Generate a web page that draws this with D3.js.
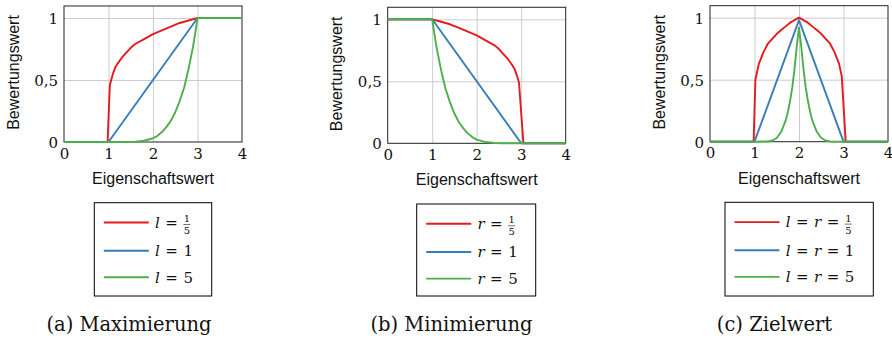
<!DOCTYPE html>
<html>
<head>
<meta charset="utf-8">
<script src="https://cdn.jsdelivr.net/npm/d3@7"></script>
<style>
  body { margin: 0; background: #fff; }
  svg { display: block; }
</style>
</head>
<body>
<div id="chart"></div>
<script>
// values
const xTicks = [0, 1, 2, 3, 4];
const yTicks = [0, 0.5, 1];
const yTickLabels = ["0", "0,5", "1"];
const xLabel = "Eigenschaftswert";
const yLabel = "Bewertungswert";
const captions = ["(a) Maximierung", "(b) Minimierung", "(c) Zielwert"];
const seriesColors = ["#e41a1c", "#377eb8", "#4daf4a"];
const legendVars = [["l"], ["r"], ["l", "r"]];
const legendValues = ["1/5", "1", "5"];

// (a) Maximierung
const maxRedX = [0, 0.98, 1.03, 1.1, 1.15, 1.2, 1.3, 1.4, 1.5, 1.6, 1.8, 2.0, 2.2, 2.4, 2.6, 2.8, 3.0, 4];
const maxRedY = [0, 0, 0.46, 0.55, 0.6, 0.63, 0.68, 0.72, 0.76, 0.79, 0.83, 0.87, 0.9, 0.93, 0.96, 0.98, 1, 1];
const maxBlueX = [0, 1, 3, 4];
const maxBlueY = [0, 0, 1, 1];
const maxGreenX = [0, 1, 1.4, 1.6, 1.8, 2.0, 2.1, 2.2, 2.3, 2.4, 2.5, 2.6, 2.7, 2.8, 2.9, 2.95, 3.0, 4];
const maxGreenY = [0, 0, 0.0003, 0.002, 0.01, 0.03, 0.05, 0.08, 0.12, 0.17, 0.24, 0.33, 0.44, 0.59, 0.77, 0.88, 1, 1];

// (b) Minimierung
const minRedX = [0, 1, 1.2, 1.4, 1.6, 1.8, 2.0, 2.2, 2.4, 2.5, 2.6, 2.7, 2.8, 2.85, 2.9, 2.95, 3.05, 4];
const minRedY = [1, 1, 0.98, 0.96, 0.93, 0.9, 0.87, 0.83, 0.79, 0.76, 0.72, 0.68, 0.63, 0.6, 0.55, 0.49, 0, 0];
const minBlueX = [0, 1, 3, 4];
const minBlueY = [1, 1, 0, 0];
const minGreenX = [0, 1, 1.05, 1.1, 1.2, 1.3, 1.4, 1.5, 1.6, 1.7, 1.8, 1.9, 2.0, 2.2, 2.4, 2.6, 3, 4];
const minGreenY = [1, 1, 0.88, 0.77, 0.59, 0.44, 0.33, 0.24, 0.17, 0.12, 0.08, 0.05, 0.03, 0.01, 0.002, 0, 0, 0];

// (c) Zielwert
const tgtRedX = [0, 0.98, 1.02, 1.05, 1.1, 1.2, 1.3, 1.4, 1.5, 1.6, 1.7, 1.8, 1.9, 2.0, 2.1, 2.2, 2.3, 2.4, 2.5, 2.6, 2.7, 2.8, 2.9, 2.96, 3.05, 4];
const tgtRedY = [0, 0, 0.5, 0.55, 0.63, 0.72, 0.79, 0.83, 0.87, 0.9, 0.93, 0.96, 0.98, 1, 0.98, 0.96, 0.93, 0.9, 0.87, 0.83, 0.79, 0.72, 0.63, 0.53, 0, 0];
const tgtBlueX = [0, 1, 2, 3, 4];
const tgtBlueY = [0, 0, 0.98, 0, 0];
const tgtGreenX = [0, 1, 1.3, 1.4, 1.5, 1.6, 1.7, 1.75, 1.8, 1.85, 1.9, 1.95, 2.0, 2.05, 2.1, 2.15, 2.2, 2.25, 2.3, 2.4, 2.5, 2.6, 2.7, 3, 4];
const tgtGreenY = [0, 0, 0.002, 0.01, 0.03, 0.08, 0.17, 0.24, 0.33, 0.44, 0.59, 0.77, 0.92, 0.77, 0.59, 0.44, 0.33, 0.24, 0.17, 0.08, 0.03, 0.01, 0.002, 0, 0];

const zip = (xs, ys) => xs.map((v, i) => [v, ys[i]]);

const panelSeries = [
  [zip(maxRedX, maxRedY), zip(maxBlueX, maxBlueY), zip(maxGreenX, maxGreenY)],
  [zip(minRedX, minRedY), zip(minBlueX, minBlueY), zip(minGreenX, minGreenY)],
  [zip(tgtRedX, tgtRedY), zip(tgtBlueX, tgtBlueY), zip(tgtGreenX, tgtGreenY)]
];

// layout
const width = 892, height = 339;
const plotW = 178, unitH = 124;
const serif = "'DejaVu Serif', serif";
const sans = "'Liberation Sans', Arial, sans-serif";

const panels = [
  {left: 64,    bottom: 142,   legX: 94.3,  legY: 202.7, legW: 117.4, capX: 129},
  {left: 387.7, bottom: 143.3, legX: 416.7, legY: 204,   legW: 119,   capX: 451.5},
  {left: 710,   bottom: 141.7, legX: 725,   legY: 202.3, legW: 148.3, capX: 774.5}
];

const svg = d3.select("#chart")
  .append("svg")
  .attr("width", width)
  .attr("height", height)
  .attr("viewBox", `0 0 ${width} ${height}`);

svg.append("rect").attr("width", width).attr("height", height).attr("fill", "#fff");

const drawPanel = (p, i) => {
  const x = d3.scaleLinear().domain([0, 4]).range([p.left, p.left + plotW]);
  const y = d3.scaleLinear().domain([0, 1]).range([p.bottom, p.bottom - unitH]);
  const yTop = y(1.097);
  const g = svg.append("g");

  // grid
  g.append("g")
    .attr("transform", `translate(0,${p.bottom})`)
    .call(d3.axisBottom(x).tickValues([1, 2, 3]).tickSize(-(p.bottom - yTop)).tickFormat(""))
    .call(a => a.select(".domain").remove())
    .selectAll("line").attr("stroke", "#cccccc").attr("stroke-width", 1);
  g.append("g")
    .attr("transform", `translate(${p.left},0)`)
    .call(d3.axisLeft(y).tickValues([0.5, 1]).tickSize(-plotW).tickFormat(""))
    .call(a => a.select(".domain").remove())
    .selectAll("line").attr("stroke", "#cccccc").attr("stroke-width", 1);

  // frame
  g.append("rect")
    .attr("x", x(0)).attr("y", yTop)
    .attr("width", x(4) - x(0)).attr("height", p.bottom - yTop)
    .attr("fill", "none").attr("stroke", "#222").attr("stroke-width", 1);

  // tick labels
  const xa = g.append("g")
    .attr("transform", `translate(0,${p.bottom})`)
    .call(d3.axisBottom(x).tickValues(xTicks).tickSize(0).tickFormat(d3.format("d")));
  xa.select(".domain").remove();
  xa.selectAll("text")
    .attr("y", 16.5).attr("dy", null)
    .attr("fill", "#111")
    .style("font-family", serif).style("font-size", "15px");

  const ya = g.append("g")
    .attr("transform", `translate(${p.left},0)`)
    .call(d3.axisLeft(y).tickValues(yTicks).tickSize(0).tickFormat((d, k) => yTickLabels[k]));
  ya.select(".domain").remove();
  ya.selectAll("text")
    .attr("x", -6).attr("dy", 5.5)
    .attr("fill", "#111")
    .style("font-family", serif).style("font-size", "15px");

  // axis labels
  g.append("text")
    .text(xLabel)
    .attr("x", x(2)).attr("y", p.bottom + 42)
    .attr("text-anchor", "middle")
    .style("font-family", sans).style("font-size", "16px").attr("fill", "#111");
  g.append("text")
    .text(yLabel)
    .attr("text-anchor", "middle")
    .attr("transform", `translate(${p.left - 45.3},${p.bottom - 69.5}) rotate(-90)`)
    .style("font-family", sans).style("font-size", "16px").attr("fill", "#111");

  // curves
  const line = d3.line().x(d => x(d[0])).y(d => y(d[1]));
  g.selectAll("path.curve")
    .data(panelSeries[i])
    .join("path")
    .attr("class", "curve")
    .attr("d", line)
    .attr("fill", "none")
    .attr("stroke", (d, k) => seriesColors[k])
    .attr("stroke-width", 1.9)
    .attr("stroke-linejoin", "round");

  // legend
  const lg = svg.append("g").attr("transform", `translate(${p.legX},${p.legY})`);
  lg.append("rect")
    .attr("width", p.legW).attr("height", 296 - p.legY)
    .attr("fill", "#fff").attr("stroke", "#000").attr("stroke-width", 1);
  const rowYs = [19.8, 48, 74.6];
  legendValues.forEach((val, k) => {
    const ry = rowYs[k];
    lg.append("line")
      .attr("x1", 9.5).attr("x2", 54.5)
      .attr("y1", ry).attr("y2", ry)
      .attr("stroke", seriesColors[k]).attr("stroke-width", 1.9);
    const t = lg.append("text")
      .attr("x", 60.7).attr("y", ry + 5.3)
      .style("font-family", serif).style("font-size", "15px").attr("fill", "#111");
    legendVars[i].forEach((v, j) => {
      t.append("tspan").attr("font-style", "italic").attr("dx", j ? 5.5 : 0).text(v);
      t.append("tspan").attr("dx", 5.5).text("=");
    });
    if (val.includes("/")) {
      const [num, den] = val.split("/");
      const bb = t.node().getBBox();
      const fx = bb.x + bb.width + 5.5;
      const fw = 7;
      lg.append("line")
        .attr("x1", fx).attr("x2", fx + fw)
        .attr("y1", ry + 2).attr("y2", ry + 2)
        .attr("stroke", "#111").attr("stroke-width", 0.6);
      lg.append("text").text(num)
        .attr("x", fx + fw / 2).attr("y", ry - 0.5).attr("text-anchor", "middle")
        .style("font-family", serif).style("font-size", "10px").attr("fill", "#111");
      lg.append("text").text(den)
        .attr("x", fx + fw / 2).attr("y", ry + 11.5).attr("text-anchor", "middle")
        .style("font-family", serif).style("font-size", "10px").attr("fill", "#111");
    } else {
      t.append("tspan").attr("dx", 5.5).text(val);
    }
  });

  // caption
  svg.append("text")
    .text(captions[i])
    .attr("x", p.capX).attr("y", 330.7)
    .attr("text-anchor", "middle")
    .style("font-family", serif).style("font-size", "19.5px").attr("fill", "#111");
};

panels.forEach(drawPanel);
</script>
</body>
</html>
